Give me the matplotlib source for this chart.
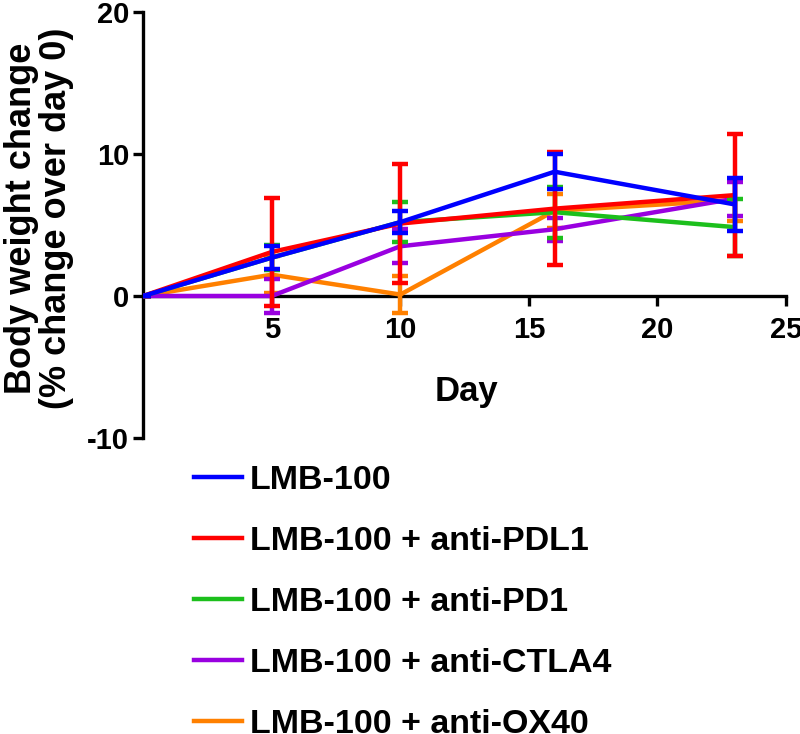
import matplotlib
matplotlib.use("Agg")
import matplotlib.pyplot as plt
import numpy as np

plt.rcParams['font.family'] = ['Liberation Sans', 'DejaVu Sans']
plt.rcParams['font.weight'] = 'bold'
plt.rcParams['axes.unicode_minus'] = False

days = [0, 5, 10, 16, 23]
labels = ['LMB-100', 'LMB-100 + anti-PDL1', 'LMB-100 + anti-PD1',
          'LMB-100 + anti-CTLA4', 'LMB-100 + anti-OX40']
colors = ['#0000ff', '#ff0000', '#1cbf1c', '#9900e0', '#ff8000']

# mean % change and error (SEM) per group
lmb = [0, 2.7, 5.2, 8.75, 6.45]
lmb_err = [0, 0.8, 0.8, 1.25, 1.85]
pdl1 = [0, 3.1, 5.1, 6.15, 7.1]
pdl1_err = [0, 3.8, 4.2, 4.0, 4.3]
pd1 = [0, 2.7, 5.2, 5.9, 4.85]
pd1_err = [0, 0.9, 1.4, 1.8, 2.0]
ctla4 = [0, 0.0, 3.5, 4.7, 6.85]
ctla4_err = [0, 1.2, 1.2, 0.8, 1.2]
ox40 = [0, 1.5, 0.1, 6.0, 6.75]
ox40_err = [0, 1.3, 1.3, 1.2, 1.5]

means = [lmb, pdl1, pd1, ctla4, ox40]
errs = [lmb_err, pdl1_err, pd1_err, ctla4_err, ox40_err]

fig = plt.figure(figsize=(8, 7.34), dpi=100)
ax = fig.add_axes([0.179, 0.4033, 0.8035, 0.5804])

for i, (m, e) in enumerate(zip(means, errs)):
    ax.errorbar(days, m, yerr=e, color=colors[i], lw=3.2, elinewidth=3.2,
                capsize=6, capthick=3.2, label=labels[i], zorder=10 - i)

ax.set_xlim(0, 25)
ax.set_ylim(-10, 20)
ax.set_xticks([5, 10, 15, 20, 25])
ax.set_yticks([-10, 0, 10, 20])
ax.spines['bottom'].set_position(('data', 0))
ax.spines['top'].set_visible(False)
ax.spines['right'].set_visible(False)
for s in ['left', 'bottom']:
    ax.spines[s].set_linewidth(2.4)
ax.tick_params(width=2.4, length=7.2, labelsize=21)
ax.tick_params(axis='x', pad=7)
ax.tick_params(axis='y', pad=3)

ax.set_xlabel('Day', fontsize=25, fontweight='bold')
ax.set_ylabel('Body weight change\n(% change over day 0)', fontsize=26,
              fontweight='bold', linespacing=1.0)
ax.yaxis.set_label_coords(-0.107, 0.515)
ax.xaxis.set_label_coords(0.503, 0.148)

handles = [plt.Line2D([], [], color=c, lw=3.2) for c in colors]
fig.legend(handles, labels, loc='upper left', bbox_to_anchor=(0.226, 0.385),
           frameon=False, fontsize=24.5, handlelength=1.41, handletextpad=0.22,
           labelspacing=0.88, borderaxespad=0)

fig.savefig('out.png', dpi=100)
